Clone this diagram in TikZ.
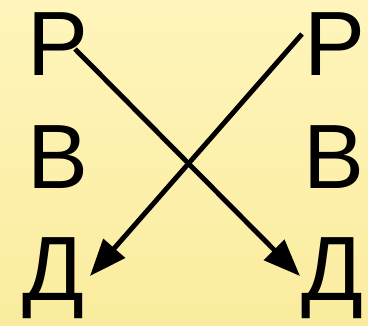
\documentclass[tikz,border=0pt]{standalone}
\usepackage{fontspec}
\setmainfont{Liberation Sans}
\usepackage{xcolor}
\usetikzlibrary{arrows.meta, positioning, calc}
\definecolor{bgtop}{RGB}{255,245,188}
\definecolor{bgbot}{RGB}{250,236,158}
\tikzset{
  letter/.style = {inner sep=0pt, anchor=base,
                   font=\fontsize{52}{52}\selectfont},
  arrow/.style  = {-{Triangle[length=21pt, width=16pt]}, line width=2.8pt},
}

\begin{document}
\begin{tikzpicture}[x=0.02cm, y=-0.02cm]
  \shade[top color=bgtop, bottom color=bgbot] (0,0) rectangle (368,325);
  \useasboundingbox (0,0) rectangle (368,325);
  % left column
  \node[letter] (pl) at (58,75)  {Р};
  \node[letter] (vl) at (58,188) {В};
  \node[letter] (dl) at (53,300) {Д};
  % right column
  \node[letter] (pr) at (335,75)  {Р};
  \node[letter] (vr) at (334,188) {В};
  \node[letter] (dr) at (332,300) {Д};
  % arrow ends
  \coordinate (sl) at (75,49);
  \coordinate (tr) at (300,276);
  \coordinate (sr) at (302,34);
  \coordinate (tl) at (90,276);
  \foreach \a/\b in {sl/tr,sr/tl}
    \draw[arrow] (\a)--(\b);
\end{tikzpicture}
\end{document}
